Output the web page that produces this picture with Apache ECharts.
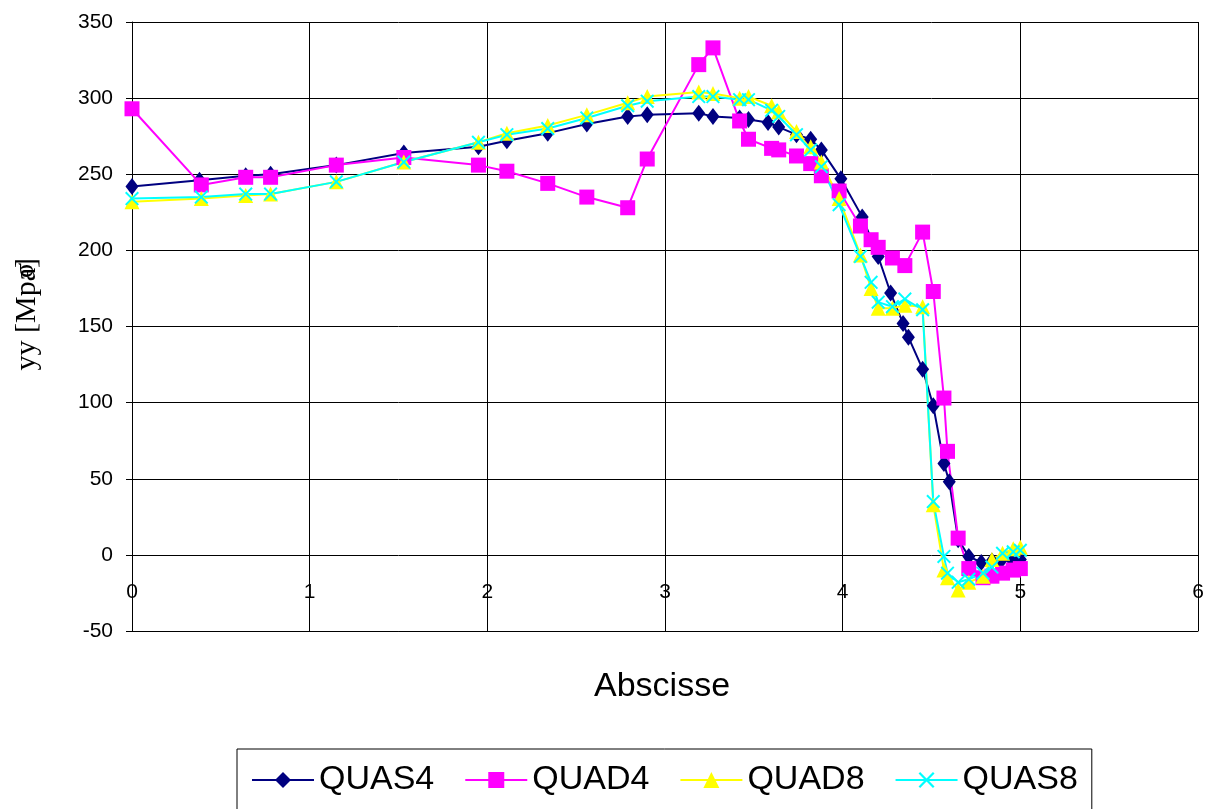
<!DOCTYPE html>
<html>
<head>
<meta charset="utf-8">
<script src="https://cdn.jsdelivr.net/npm/echarts@6/dist/echarts.min.js"></script>
<style>html,body{margin:0;padding:0;background:#fff;}#c{width:1210px;height:809px;}</style>
</head>
<body>
<div id="c"></div>
<script>
const xQUAS4 = [0, 0.38, 0.64, 0.78, 1.15, 1.53, 1.95, 2.11, 2.34, 2.56, 2.79, 2.9, 3.19, 3.27, 3.42, 3.47, 3.58, 3.64, 3.74, 3.82, 3.88, 3.99, 4.11, 4.2, 4.27, 4.34, 4.37, 4.45, 4.51, 4.57, 4.6, 4.65, 4.71, 4.78, 4.84, 4.89, 4.95, 5.0];
const yQUAS4 = [242, 246, 249, 250, 256, 264, 268, 272, 277, 283, 288, 289, 290, 288, 287, 286, 284, 281, 276, 273, 266, 247, 222, 196, 172, 152, 143, 122, 98, 60, 48, 10, -1, -5, -4, -4, -3, -3];
const xQUAD = [0, 0.39, 0.64, 0.78, 1.15, 1.53, 1.95, 2.11, 2.34, 2.56, 2.79, 2.9, 3.19, 3.27, 3.42, 3.47, 3.6, 3.64, 3.74, 3.82, 3.88, 3.98, 4.1, 4.16, 4.2, 4.28, 4.35, 4.45, 4.51, 4.57, 4.59, 4.65, 4.71, 4.79, 4.84, 4.9, 4.96, 5.0];
const yQUAD4 = [293, 243, 248, 248, 256, 261, 256, 252, 244, 235, 228, 260, 322, 333, 285, 273, 267, 266, 262, 257, 249, 239, 216, 207, 202, 195, 190, 212, 173, 103, 68, 11, -9, -15, -14, -12, -10, -9];
const yQUAD8 = [232, 234, 236, 237, 245, 258, 271, 277, 282, 289, 297, 301, 304, 303, 300, 301, 295, 291, 278, 268, 258, 234, 197, 175, 162, 162, 164, 163, 33, -10, -15, -23, -18, -14, -3, 1, 4, 5];
const yQUAS8 = [234, 235, 237, 237, 245, 258, 271, 276, 280, 287, 295, 298, 301, 301, 299, 299, 292, 288, 276, 266, 255, 230, 196, 179, 166, 163, 168, 161, 35, -1, -12, -18, -16, -12, -8, 1, 2, 3];
const seriesNames = ['QUAS4', 'QUAD4', 'QUAD8', 'QUAS8'];
const xTitle = 'Abscisse';
const yTitle = 'yy [Mpa]';

function pairs(xs, ys) { return xs.map((x, i) => [x, ys[i]]); }
const crossPath = 'path://M0,1 L1,0 L5,4 L9,0 L10,1 L6,5 L10,9 L9,10 L5,6 L1,10 L0,9 L4,5 Z';

const chart = echarts.init(document.getElementById('c'), null, {renderer: 'canvas'});
const mk = (name, data, color, symbol, size) => ({
  name, type: 'line', data, symbol, symbolSize: size, showAllSymbol: true,
  lineStyle: {color, width: 2}, itemStyle: {color, borderWidth: 0},
  emphasis: {disabled: true}, animation: false, z: 3
});
chart.setOption({
  animation: false,
  backgroundColor: '#fff',
  grid: {left: 132, right: 12, top: 22, bottom: 178, containLabel: false, outerBoundsMode: 'none'},
  xAxis: {
    type: 'value', min: 0, max: 6, interval: 1,
    axisLine: {onZero: false, lineStyle: {color: '#000', width: 1}},
    axisTick: {show: false},
    axisLabel: {margin: -49, color: '#000', fontSize: 21, fontFamily: 'Liberation Sans, Arial, sans-serif'},
    splitLine: {show: true, lineStyle: {color: '#000', width: 1}}
  },
  yAxis: {
    type: 'value', min: -50, max: 350, interval: 50,
    axisLine: {show: true, onZero: false, lineStyle: {color: '#000', width: 1}},
    axisTick: {show: true, length: 6, lineStyle: {color: '#000'}},
    axisLabel: {margin: 19, color: '#000', fontSize: 21, fontFamily: 'Liberation Sans, Arial, sans-serif'},
    splitLine: {show: true, lineStyle: {color: '#000', width: 1}}
  },
  legend: {
    data: seriesNames, left: 237, top: 749, orient: 'horizontal',
    padding: [14, 14, 40, 14], itemGap: 30, itemWidth: 62, itemHeight: 20,
    borderColor: '#000', borderWidth: 1, backgroundColor: '#fff',
    textStyle: {fontSize: 34, color: '#000', fontFamily: 'Liberation Sans, Arial, sans-serif'}
  },
  graphic: [
    {type: 'text', left: 12, top: 258, rotation: Math.PI / 2,
     style: {text: yTitle, font: '30px "Liberation Serif", "Times New Roman", serif', fill: '#000'}},
    {type: 'text', x: 12, y: 278, rotation: Math.PI / 2,
     style: {text: 'σ', font: '28px "Liberation Serif", "Times New Roman", serif', fill: '#000'}},
    {type: 'text', left: 594, top: 670, style: {text: xTitle, font: '34px "Liberation Sans", Arial, sans-serif', fill: '#000'}}
  ],
  series: [
    mk(seriesNames[0], pairs(xQUAS4, yQUAS4), '#000080', 'diamond', [13, 17]),
    mk(seriesNames[1], pairs(xQUAD, yQUAD4), '#ff00ff', 'rect', 15),
    mk(seriesNames[2], pairs(xQUAD, yQUAD8), '#ffff00', 'triangle', 15),
    mk(seriesNames[3], pairs(xQUAD, yQUAS8), '#00ffff', crossPath, 14)
  ]
});
</script>
</body>
</html>
